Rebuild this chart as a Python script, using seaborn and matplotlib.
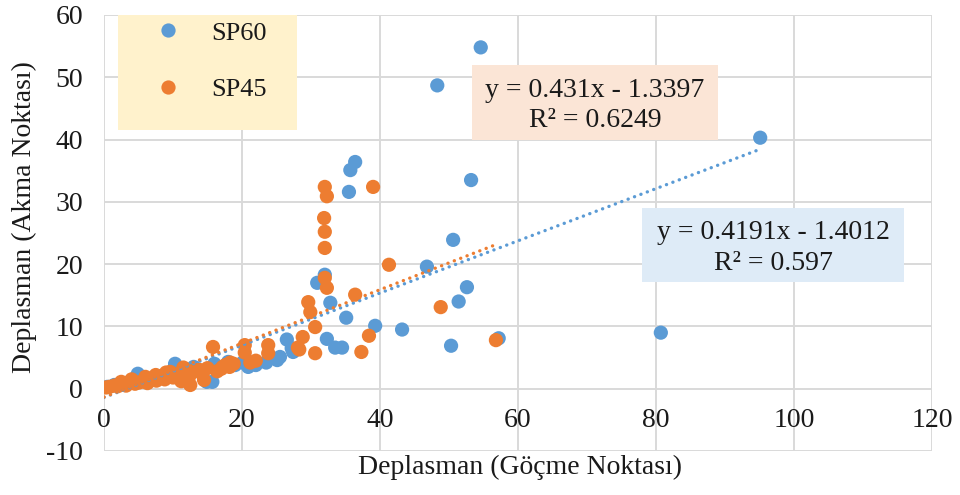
import numpy as np
import pandas as pd
import matplotlib
matplotlib.use("Agg")
import matplotlib.pyplot as plt
from matplotlib.patches import Rectangle
import seaborn as sns

# ---------------- data ----------------
sp60_x = [0.5, 1.5, 3.0, 4.9, 6.0, 8.0, 9.5, 10.3, 10.3, 12.0, 13.0, 14.9, 15.7, 16.0,
          18.0, 19.0, 20.1, 20.9, 22.0, 23.5, 25.1, 25.5, 26.5, 27.2, 27.4, 30.9, 32.0,
          32.3, 32.8, 33.5, 34.5, 35.1, 35.5, 35.7, 36.4, 39.3, 43.2, 46.8, 48.3, 50.3,
          50.6, 51.4, 52.6, 53.2, 54.6, 57.2, 80.7, 95.1]
sp60_y = [0.3, 0.6, 0.9, 2.4, 1.3, 2.0, 2.6, 3.4, 4.0, 2.5, 3.5, 1.1, 1.1, 4.0,
          4.3, 3.8, 4.2, 3.5, 3.8, 4.2, 4.6, 5.1, 7.9, 6.5, 5.9, 17.0, 18.3,
          8.0, 13.8, 6.6, 6.6, 11.4, 31.6, 35.1, 36.4, 10.1, 9.5, 19.6, 48.7, 6.9,
          23.9, 14.0, 16.3, 33.5, 54.8, 8.1, 9.0, 40.3]

sp45_x = [0.3, 0.8, 1.5, 2.0, 2.5, 2.6, 3.2, 3.8, 4.0, 4.5, 5.1, 5.7, 6.0, 6.3, 7.0,
          7.5, 7.6, 8.2, 8.8, 9.0, 9.4, 9.6, 10.0, 10.6, 11.2, 11.5, 11.8, 12.4, 12.5,
          13.0, 13.6, 13.9, 14.2, 14.5, 15.0, 15.8, 16.4, 17.0, 17.2, 17.6, 18.2, 18.3,
          18.8, 20.4, 20.4, 21.2, 22.0, 23.8, 23.8, 28.1, 28.3, 28.8, 29.6, 29.9, 30.6,
          30.6, 31.9, 32.0, 32.0, 32.0, 32.0, 32.3, 32.3, 36.4, 37.3, 38.4, 39.0, 41.3,
          48.8, 56.8]
sp45_y = [0.2, 0.3, 0.5, 0.4, 1.1, 0.7, 0.5, 0.9, 1.5, 0.8, 1.0, 1.2, 1.9, 0.9, 1.4,
          2.2, 1.3, 1.7, 1.5, 2.6, 2.0, 2.7, 1.8, 2.3, 1.2, 3.4, 2.6, 2.1, 0.6,
          2.9, 3.0, 3.0, 2.4, 1.4, 3.3, 6.7, 2.8, 3.2, 3.5, 3.8, 3.5, 4.2,
          4.0, 7.0, 5.8, 4.2, 4.5, 7.0, 5.7, 6.6, 6.3, 8.3, 13.9, 12.3, 9.9,
          5.7, 27.4, 32.4, 25.2, 22.6, 17.8, 30.9, 16.2, 15.1, 5.9, 8.5, 32.4, 19.9,
          13.1, 7.8]

series_names = ["SP60", "SP45"]
trend_slope = [0.4191, 0.431]
trend_intercept = [-1.4012, -1.3397]
trend_r2 = ["0.597", "0.6249"]

x_ticks = [0, 20, 40, 60, 80, 100, 120]
y_ticks = [-10, 0, 10, 20, 30, 40, 50, 60]
x_label = "Deplasman (Göçme Noktası)"
y_label = "Deplasman (Akma Noktası)"

# ---------------- style ----------------
sns.set_theme(style="white")
plt.rcParams["font.family"] = ["Liberation Serif", "DejaVu Serif"]
plt.rcParams["axes.unicode_minus"] = False

BLUE = "#5B9BD5"
ORANGE = "#ED7D31"
GRID = "#D9D9D9"
TXT = "#1a1a1a"
FS = 20

W, H = 960, 495
AX_L, AX_R, AX_T, AX_B = 104, 932, 15, 451
AW, AH = AX_R - AX_L, AX_B - AX_T


def ax_frac(px, py):
    return (px - AX_L) / AW, (AX_B - py) / AH


df = pd.DataFrame({
    "x": sp60_x + sp45_x,
    "y": sp60_y + sp45_y,
    "Series": [series_names[0]] * len(sp60_x) + [series_names[1]] * len(sp45_x),
})

fig = plt.figure(figsize=(W / 100, H / 100), dpi=100)
ax = fig.add_axes([AX_L / W, 1 - AX_B / H, AW / W, AH / H])

sns.scatterplot(data=df, x="x", y="y", hue="Series",
                palette={series_names[0]: BLUE, series_names[1]: ORANGE},
                s=105, edgecolor="none", linewidth=0, alpha=1.0, ax=ax,
                legend=True, zorder=3)

# trend lines
for xs, slope, icpt, col in [(sp60_x, trend_slope[0], trend_intercept[0], BLUE),
                             (sp45_x, trend_slope[1], trend_intercept[1], ORANGE)]:
    lx = np.array([0.0, max(xs)])
    ly = slope * lx + icpt
    sns.lineplot(x=lx, y=ly, color=col, linewidth=2.4, ax=ax, legend=False,
                 zorder=4)
    ln = ax.lines[-1]
    ln.set_linestyle((0, (0.05, 2.0)))
    ln.set_dash_capstyle("round")

ax.set_xlim(x_ticks[0], x_ticks[-1])
ax.set_ylim(y_ticks[0], y_ticks[-1])
ax.set_xticks(x_ticks)
ax.set_yticks(y_ticks)
ax.grid(True, color=GRID, linewidth=1.4, zorder=0)
ax.set_axisbelow(True)
for s in ax.spines.values():
    s.set_visible(False)
ax.spines["bottom"].set_position(("data", 0))

ax.tick_params(axis="x", length=0, pad=14, labelsize=FS, labelcolor=TXT)
ax.tick_params(axis="y", length=0, pad=15, labelsize=FS, labelcolor=TXT)

ax.set_xlabel(x_label, fontsize=FS, color=TXT, va="center")
ax.xaxis.set_label_coords(*ax_frac(520, 467))
ax.set_ylabel(y_label, fontsize=FS, color=TXT, va="center")
ax.yaxis.set_label_coords(*ax_frac(24, 217))

# legend with background block
lx0, ly0 = ax_frac(118, 130)
ax.add_patch(Rectangle((lx0, ly0), 179 / AW, 115 / AH, transform=ax.transAxes,
                       facecolor="#FFF2CC", edgecolor="none", zorder=5))
handles, labels = ax.get_legend_handles_labels()
leg = ax.legend(handles[:2], labels[:2], loc="upper left",
                bbox_to_anchor=ax_frac(136, 8),
                frameon=False, fontsize=19, labelspacing=1.25,
                handletextpad=0.95, handlelength=1.4, borderpad=0.0,
                markerscale=1.0)
leg.set_zorder(6)
for t in leg.get_texts():
    t.set_color(TXT)

# equation boxes
boxes = [
    ((472, 65, 718, 140), "#FBE5D6", 1),
    ((642, 208, 904, 282), "#DEEBF7", 0),
]
for (x0, y0, x1, y1), fc, i in boxes:
    bx, by = ax_frac(x0, y1)
    ax.add_patch(Rectangle((bx, by), (x1 - x0) / AW, (y1 - y0) / AH,
                           transform=ax.transAxes, facecolor=fc,
                           edgecolor="none", zorder=6))
    cx, cy = ax_frac((x0 + x1) / 2, (y0 + y1) / 2 + 3)
    ax.text(cx, cy,
            f"y = {trend_slope[i]}x - {abs(trend_intercept[i])}\nR² = {trend_r2[i]}",
            transform=ax.transAxes, ha="center", va="center", fontsize=FS,
            color=TXT, linespacing=1.3, multialignment="center", zorder=7)

fig.savefig("out.png", dpi=100)
